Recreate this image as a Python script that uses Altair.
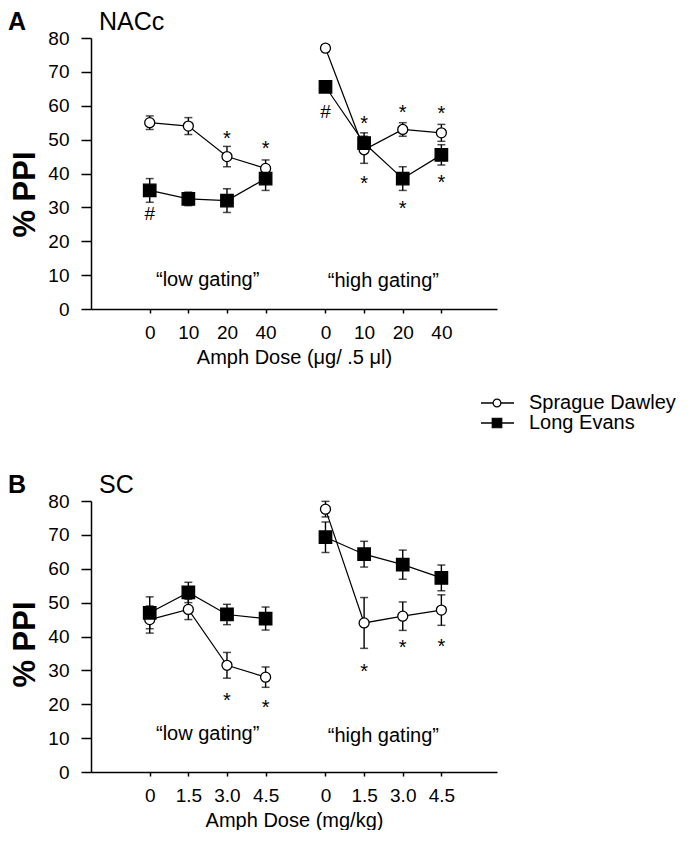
import altair as alt
import pandas as pd

# ---------------- data ----------------
series = ["Sprague Dawley", "Long Evans"]
gating = ["\u201clow gating\u201d", "\u201chigh gating\u201d"]
doses_A = ["0", "10", "20", "40"]
doses_B = ["0", "1.5", "3.0", "4.5"]

# Panel A: NACc
sd_A_low = [55.0, 54.0, 45.0, 41.5]
sd_A_low_err = [2.0, 2.5, 3.0, 2.5]
le_A_low = [35.0, 32.5, 32.0, 38.5]
le_A_low_err = [3.5, 2.0, 3.5, 3.5]
sd_A_high = [77.0, 47.0, 53.0, 52.0]
sd_A_high_err = [1.0, 4.0, 2.0, 2.5]
le_A_high = [65.6, 49.0, 38.5, 45.5]
le_A_high_err = [1.0, 3.0, 3.5, 3.0]

# Panel B: SC
sd_B_low = [45.0, 48.0, 31.5, 28.0]
sd_B_low_err = [4.0, 3.0, 3.8, 3.0]
le_B_low = [47.0, 53.0, 46.5, 45.3]
le_B_low_err = [4.7, 3.0, 3.0, 3.4]
sd_B_high = [77.6, 44.0, 46.0, 47.8]
sd_B_high_err = [2.3, 7.5, 4.2, 4.5]
le_B_high = [69.3, 64.3, 61.2, 57.3]
le_B_high_err = [4.5, 3.8, 4.3, 3.8]

# significance annotations: symbol, gating group index, dose index, % PPI level
sig_A_symbol = ["*", "*", "#", "#", "*", "*", "*", "*", "*", "*"]
sig_A_group = [0, 0, 0, 1, 1, 1, 1, 1, 1, 1]
sig_A_dose = [2, 3, 0, 0, 1, 1, 2, 2, 3, 3]
sig_A_level = [51.8, 48.7, 28.0, 58.2, 56.0, 38.3, 59.4, 31.0, 58.9, 38.8]

sig_B_symbol = ["*", "*", "*", "*", "*"]
sig_B_group = [0, 0, 1, 1, 1]
sig_B_dose = [2, 3, 1, 2, 3]
sig_B_level = [22.5, 20.4, 31.1, 38.1, 38.5]

gating_label_level_A = [8.7, 8.4]
gating_label_level_B = [11.2, 10.6]

# ---------------- layout constants ----------------
GROUP_OFFSET = 4.55
X_DOMAIN = [-1.52, 8.99]
W, H = 406, 271
FONT = "Liberation Sans"


def pos(g, i):
    return round(i + g * GROUP_OFFSET, 2)


def make_df(sd_low, sd_low_err, le_low, le_low_err, sd_high, sd_high_err, le_high, le_high_err):
    rows = []
    table = [
        (series[0], 0, sd_low, sd_low_err),
        (series[0], 1, sd_high, sd_high_err),
        (series[1], 0, le_low, le_low_err),
        (series[1], 1, le_high, le_high_err),
    ]
    for s, g, vals, errs in table:
        for i, (v, e) in enumerate(zip(vals, errs)):
            rows.append(dict(series=s, line=f"{s}-{g}", pos=pos(g, i),
                             value=v, lo=v - e, hi=v + e))
    return pd.DataFrame(rows)


def sig_df(symbols, groups, doses, levels):
    return pd.DataFrame(dict(sym=symbols,
                             pos=[pos(g, d) for g, d in zip(groups, doses)],
                             value=levels))


def panel(df, sig, doses, x_title, letter, region, gate_levels, title_y, legend=False):
    tick_pos = [pos(g, i) for g in (0, 1) for i in range(4)]
    tick_lab = doses * 2
    label_expr = ("[" + ",".join(f"'{l}'" for l in tick_lab) + "][indexof(["
                  + ",".join(str(p) for p in tick_pos) + "], datum.value)]")
    x_axis = alt.Axis(values=tick_pos, labelExpr=label_expr, title=x_title,
                      tickSize=4, labelPadding=10, titlePadding=5,
                      titleFontSize=20, titleFontWeight="normal",
                      labelFontSize=19, labelOverlap=False)
    y_axis = alt.Axis(values=list(range(0, 81, 10)), title="% PPI",
                      titleFontSize=31, titleFontWeight="bold",
                      titlePadding=6, titleY=title_y, labelOverlap=False,
                      tickSize=10, labelPadding=12, labelFontSize=19)
    x_scale = alt.Scale(domain=X_DOMAIN, nice=False, zero=False)
    y_scale = alt.Scale(domain=[0, 80], nice=False)

    def X(f):
        return alt.X(f"{f}:Q", scale=x_scale, axis=x_axis, title=x_title)

    def Y(f):
        return alt.Y(f"{f}:Q", scale=y_scale, axis=y_axis, title="% PPI")

    base = alt.Chart(df)
    lines = base.mark_line(color="black", strokeWidth=1.2).encode(
        x=X("pos"), y=Y("value"), detail="line:N")
    bars = base.mark_rule(color="black", strokeWidth=1.4).encode(
        x=X("pos"), y=Y("lo"), y2="hi:Q")
    cap_lo = base.mark_tick(color="black", orient="horizontal", size=8, thickness=1.5).encode(
        x=X("pos"), y=Y("lo"))
    cap_hi = base.mark_tick(color="black", orient="horizontal", size=8, thickness=1.5).encode(
        x=X("pos"), y=Y("hi"))
    pts = base.mark_point(filled=True, stroke="black", strokeWidth=1.3, opacity=1).encode(
        x=X("pos"), y=Y("value"),
        shape=alt.Shape("series:N", scale=alt.Scale(domain=series, range=["circle", "square"]), legend=None),
        fill=alt.Fill("series:N", scale=alt.Scale(domain=series, range=["white", "black"]), legend=None),
        size=alt.Size("series:N", scale=alt.Scale(domain=series, range=[100, 155]), legend=None),
    )
    sdf = alt.Chart(sig)
    stars = sdf.transform_filter("datum.sym == '*'").mark_text(
        fontSize=20, baseline="middle", dy=5, font=FONT, color="black").encode(
        x=X("pos"), y=Y("value"), text="sym:N")
    hashes = sdf.transform_filter("datum.sym == '#'").mark_text(
        fontSize=19, baseline="middle", font=FONT, color="black").encode(
        x=X("pos"), y=Y("value"), text="sym:N")
    gdf = pd.DataFrame(dict(label=gating, pos=[pos(0, 1.5), pos(1, 1.5)], value=gate_levels))
    gates = alt.Chart(gdf).mark_text(fontSize=20, baseline="middle", font=FONT, color="black").encode(
        x=X("pos"), y=Y("value"), text="label:N")
    let = alt.Chart(pd.DataFrame(dict(t=[letter]))).mark_text(
        align="left", baseline="alphabetic", fontSize=25, fontWeight="bold", font=FONT, color="black").encode(
        x=alt.value(-83), y=alt.value(-8), text="t:N")
    reg = alt.Chart(pd.DataFrame(dict(t=[region]))).mark_text(
        align="left", baseline="alphabetic", fontSize=25, font=FONT, color="black").encode(
        x=alt.value(8), y=alt.value(-8), text="t:N")
    layers = [lines, bars, cap_lo, cap_hi, pts, stars, hashes, gates, let, reg]
    if legend:
        for i, s in enumerate(series):
            ld = alt.Chart(pd.DataFrame(dict(series=[s])))
            yy = 365 + 20 * i
            layers.append(ld.mark_rule(color="black", strokeWidth=1.3).encode(
                x=alt.value(390), x2=alt.value(423), y=alt.value(yy)))
            layers.append(ld.mark_point(
                shape=["circle", "square"][i], filled=True,
                fill=["white", "black"][i], stroke="black", strokeWidth=1.2,
                size=[60, 90][i], opacity=1).encode(x=alt.value(406), y=alt.value(yy)))
            layers.append(ld.mark_text(align="left", baseline="middle", fontSize=20,
                                       font=FONT, color="black").encode(
                x=alt.value(438), y=alt.value(yy), text="series:N"))
    return alt.layer(*layers).properties(width=W, height=H)


dfA = make_df(sd_A_low, sd_A_low_err, le_A_low, le_A_low_err,
              sd_A_high, sd_A_high_err, le_A_high, le_A_high_err)
dfB = make_df(sd_B_low, sd_B_low_err, le_B_low, le_B_low_err,
              sd_B_high, sd_B_high_err, le_B_high, le_B_high_err)

pA = panel(dfA, sig_df(sig_A_symbol, sig_A_group, sig_A_dose, sig_A_level), doses_A,
           "Amph Dose (\u03bcg/ .5 \u03bcl)", "A", "NACc", gating_label_level_A, 156, legend=True)
pB = panel(dfB, sig_df(sig_B_symbol, sig_B_group, sig_B_dose, sig_B_level), doses_B,
           "Amph Dose (mg/kg)", "B", "SC", gating_label_level_B, 143)

chart = alt.vconcat(pA, pB, spacing=40).properties(
    padding={"left": 0, "top": 2, "right": 0, "bottom": 0}
).configure_view(stroke=None).configure_axis(
    labelFont=FONT, titleFont=FONT, labelColor="black", titleColor="black",
    domainColor="black", tickColor="black", domainWidth=1.5, tickWidth=1.5, grid=False
).configure_text(font=FONT)

chart.save("out.html", embed_options={"renderer": "svg", "actions": False})
